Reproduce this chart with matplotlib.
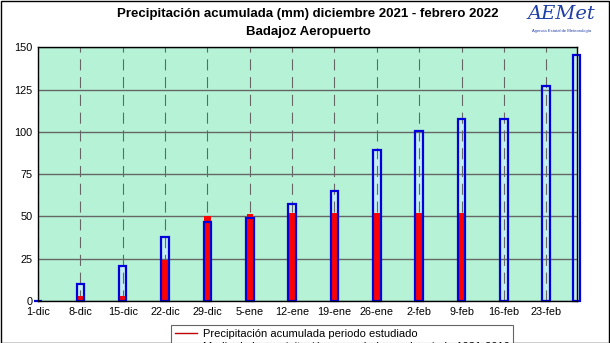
import numpy as np
import matplotlib.pyplot as plt
from matplotlib.lines import Line2D
from matplotlib.patches import Rectangle

plt.rcParams['font.family'] = ['Liberation Sans', 'DejaVu Sans']

# days counted from 1-dic; last bar is 28-feb
days = [0, 7, 14, 21, 28, 35, 42, 49, 56, 63, 70, 77, 84, 89]
tick_labels = ['1-dic', '8-dic', '15-dic', '22-dic', '29-dic', '5-ene', '12-ene',
               '19-ene', '26-ene', '2-feb', '9-feb', '16-feb', '23-feb']
# accumulated precipitation this season (mm), none yet after 9-feb
observed = [0, 3, 3, 24, 50, 51.5, 52, 52, 52, 52, 52, 0, 0, 0]
# normal accumulated precipitation 1981-2010 (mm)
normal = [0, 10, 21, 38, 46.5, 49, 57.5, 65, 89, 100.5, 107.5, 107.5, 127, 145.5]

fig = plt.figure(figsize=(6.1, 3.43), dpi=100)
ax = fig.add_axes([0.0623, 0.1224, 0.8837, 0.7396])
ax.set_facecolor('#b5f2d6')

# normal: pale fill under the grid, blue outline on top
ax.bar(days, normal, width=1.25, color='#c4eef0', zorder=1, clip_on=False)
ax.bar(days, observed, width=1.05, color='#ff0000', zorder=3, clip_on=False)
ax.bar(days, normal, width=1.25, fill=False, edgecolor='#0000dd', linewidth=1.6,
       zorder=4, clip_on=False)

ax.set_xlim(0, 89.1)
ax.set_ylim(0, 150)
ax.set_yticks(range(0, 151, 25))
ax.set_xticks(days[:-1])
ax.set_xticklabels(tick_labels)
ax.tick_params(labelsize=7.8, length=0, pad=4)

ax.yaxis.grid(True, color='#666666', linewidth=1, zorder=2)
ax.xaxis.grid(True, color='#666666', linewidth=0.8, linestyle=(0, (10, 6)), zorder=2)
ax.set_axisbelow(False)
for s in ax.spines.values():
    s.set_linewidth(1)
    s.set_color('black')
    s.set_zorder(5)

fig.text(0.505, 0.958, 'Precipitación acumulada (mm) diciembre 2021 - febrero 2022',
         ha='center', va='center', fontsize=9.5, fontweight='bold')
fig.text(0.505, 0.908, 'Badajoz Aeropuerto', ha='center', va='center',
         fontsize=9.5, fontweight='bold')

# AEMet logo text
fig.text(0.92, 0.96, 'AEMet', ha='center', va='center', fontsize=14,
         color='#1f3fa8', style='italic', family=['DejaVu Serif'])
fig.text(0.92, 0.91, 'Agencia Estatal de Meteorología', ha='center', va='center',
         fontsize=3, color='#1f3fa8')

handles = [Line2D([], [], color='#c00000', linewidth=1),
           Line2D([], [], color='#0000dd', linewidth=1)]
labels = ['Precipitación acumulada periodo estudiado',
          'Media de la precipitación acumulada en el periodo 1981-2010']
leg = fig.legend(handles, labels, loc='upper left', bbox_to_anchor=(0.272, 0.068),
                 fontsize=8, frameon=True, fancybox=False, edgecolor='#404040',
                 handlelength=2, borderpad=0.3, labelspacing=0.3, handletextpad=0.5)
leg.get_frame().set_linewidth(0.8)

fig.patches.append(Rectangle((0.001, 0.001), 0.997, 0.997, transform=fig.transFigure,
                             fill=False, edgecolor='black', linewidth=1))

fig.savefig('out.png', dpi=100)
